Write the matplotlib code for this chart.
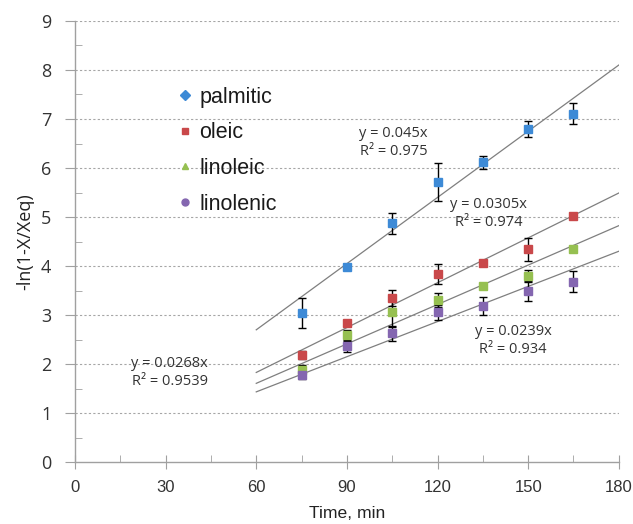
import matplotlib
matplotlib.use("Agg")
import matplotlib.pyplot as plt
import numpy as np
from matplotlib.lines import Line2D

time = [75, 90, 105, 120, 135, 150, 165]
palmitic = [3.04, 3.99, 4.87, 5.71, 6.12, 6.80, 7.11]
palmitic_err = [0.30, 0.05, 0.22, 0.39, 0.13, 0.16, 0.21]
oleic = [2.19, 2.84, 3.35, 3.84, 4.06, 4.34, 5.02]
oleic_err = [0.08, 0.05, 0.17, 0.20, 0.02, 0.23, 0.02]
linoleic = [1.89, 2.60, 3.06, 3.31, 3.60, 3.79, 4.34]
linoleic_err = [0.10, 0.10, 0.30, 0.15, 0.03, 0.12, 0.05]
linolenic = [1.77, 2.36, 2.63, 3.06, 3.18, 3.49, 3.68]
linolenic_err = [0.08, 0.12, 0.15, 0.15, 0.18, 0.20, 0.21]

names = ["palmitic", "oleic", "linoleic", "linolenic"]
slopes = [0.045, 0.0305, 0.0268, 0.0239]
r2 = ["0.975", "0.974", "0.9539", "0.934"]
colors = ["#3d8ad6", "#c9484a", "#96c051", "#8466b0"]
legend_markers = ["D", "s", "^", "o"]
trend_range = [60, 180]

series = [(palmitic, palmitic_err), (oleic, oleic_err),
          (linoleic, linoleic_err), (linolenic, linolenic_err)]

fig = plt.figure(figsize=(6.33, 5.24), dpi=100)
ax = fig.add_axes([0.1185, 0.118, 0.859, 0.842])

ax.set_xlim(0, 180)
ax.set_ylim(0, 9)

for y in range(1, 10):
    ax.axhline(y, color="#a6a6a6", lw=0.8, ls=(0, (2, 2)), zorder=0)

tx = np.array(trend_range, dtype=float)
for k, s in enumerate(slopes):
    ax.plot(tx, s * tx, color="#7f7f7f", lw=0.9, zorder=1)

for (vals, err), c in zip(series, colors):
    ax.errorbar(time, vals, yerr=err, fmt="none", ecolor="black",
                elinewidth=1.0, capsize=3, capthick=1.0, zorder=2)
    ax.plot(time, vals, ls="none", marker="s", ms=6, color=c, zorder=3)

tfont = dict(family="Open Sans", fontsize=10.5, color="#333333")
eq_pos = [(105.5, 6.52), (137, 5.07), (31.4, 1.83), (145, 2.48)]
for s, r, (px, py) in zip(slopes, r2, eq_pos):
    ax.text(px, py, f"y = {s}x\nR² = {r}", ha="center", va="center",
            linespacing=1.3, **tfont)

handles = [Line2D([], [], ls="none", marker=m, color=c, ms=5)
           for m, c in zip(legend_markers, colors)]
leg = ax.legend(handles, names, loc="upper left", bbox_to_anchor=(0.148, 0.895),
                frameon=False, handletextpad=0.25, labelspacing=0.68,
                prop=dict(family="Liberation Sans", size=15.5), handlelength=0.9)
for t in leg.get_texts():
    t.set_color("#1a1a1a")

for sp in ["top", "right"]:
    ax.spines[sp].set_visible(False)
for sp in ["left", "bottom"]:
    ax.spines[sp].set_color("#a0a0a0")
    ax.spines[sp].set_linewidth(1.0)

ax.set_xticks(range(0, 181, 30))
ax.set_xticks(range(15, 181, 30), minor=True)
ax.set_yticks(range(0, 10))
ax.set_yticks(np.arange(0.5, 9, 1.0), minor=True)
ax.tick_params(axis="x", which="major", direction="inout", length=10, color="#a0a0a0", pad=8)
ax.tick_params(axis="x", which="minor", direction="in", length=5, color="#a0a0a0")
ax.tick_params(axis="y", which="major", direction="out", length=7, color="#a0a0a0", pad=10)
ax.tick_params(axis="y", which="minor", direction="in", length=5, color="#a0a0a0")
for lab in ax.get_xticklabels():
    lab.set_fontfamily("Liberation Sans")
    lab.set_fontsize(12)
    lab.set_color("#333333")
for lab in ax.get_yticklabels():
    lab.set_fontfamily("Open Sans")
    lab.set_fontsize(13)
    lab.set_color("#333333")

ax.set_xlabel("Time, min", fontfamily="Liberation Sans", fontsize=12.6, color="#222222", labelpad=8)
ax.set_ylabel("-ln(1-X/Xeq)", fontfamily="Open Sans", fontsize=13, color="#222222", labelpad=5)

fig.savefig("out.png", dpi=100)
